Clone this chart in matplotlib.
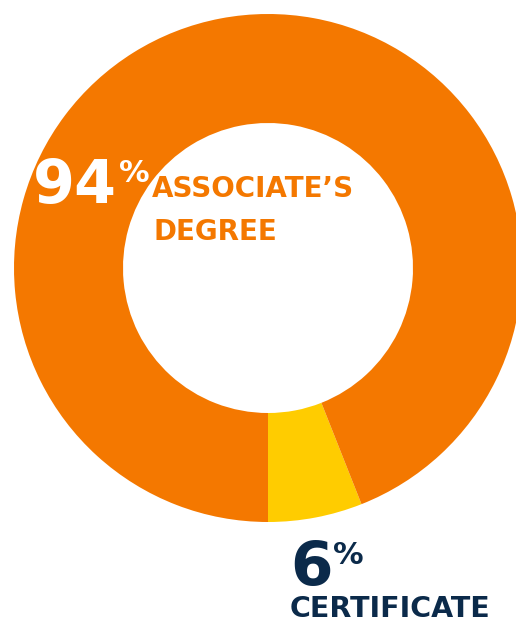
import matplotlib
matplotlib.use("Agg")
import matplotlib.pyplot as plt

categories = ["Certificate", "Associate’s Degree"]
values = [6, 94]
colors = ["#FFCC00", "#F47800"]
W, H = 516, 624

fig = plt.figure(figsize=(W / 100, H / 100), dpi=100)
ax = fig.add_axes([0, 0, 1, 1])
cx, cy, R = 268, H - 268, 254
ax.pie(values, colors=colors, startangle=270, counterclock=True,
       center=(cx, cy), radius=R,
       wedgeprops=dict(width=R - 145, linewidth=0))
ax.set_xlim(0, W)
ax.set_ylim(0, H)
ax.set_aspect("equal")
ax.axis("off")

fam = ["DejaVu Sans"]
orange = "#F47800"
navy = "#0B2A4A"

def T(x, y, s, **kw):
    ax.text(x, H - y, s, family=fam, fontweight="bold", va="baseline", ha="left", **kw)

T(33, 203, f"{values[1]}", fontsize=43.5, color="white")
T(119, 182, "%", fontsize=22, color="white")
T(152, 197, "ASSOCIATE’S", fontsize=20, color=orange)
T(154, 240, "DEGREE", fontsize=20, color=orange)

T(290, 585, f"{values[0]}", fontsize=44, color=navy)
T(333, 564, "%", fontsize=22, color=navy)
T(290, 617, "CERTIFICATE", fontsize=20.5, color=navy)

fig.savefig("out.png", dpi=100)
